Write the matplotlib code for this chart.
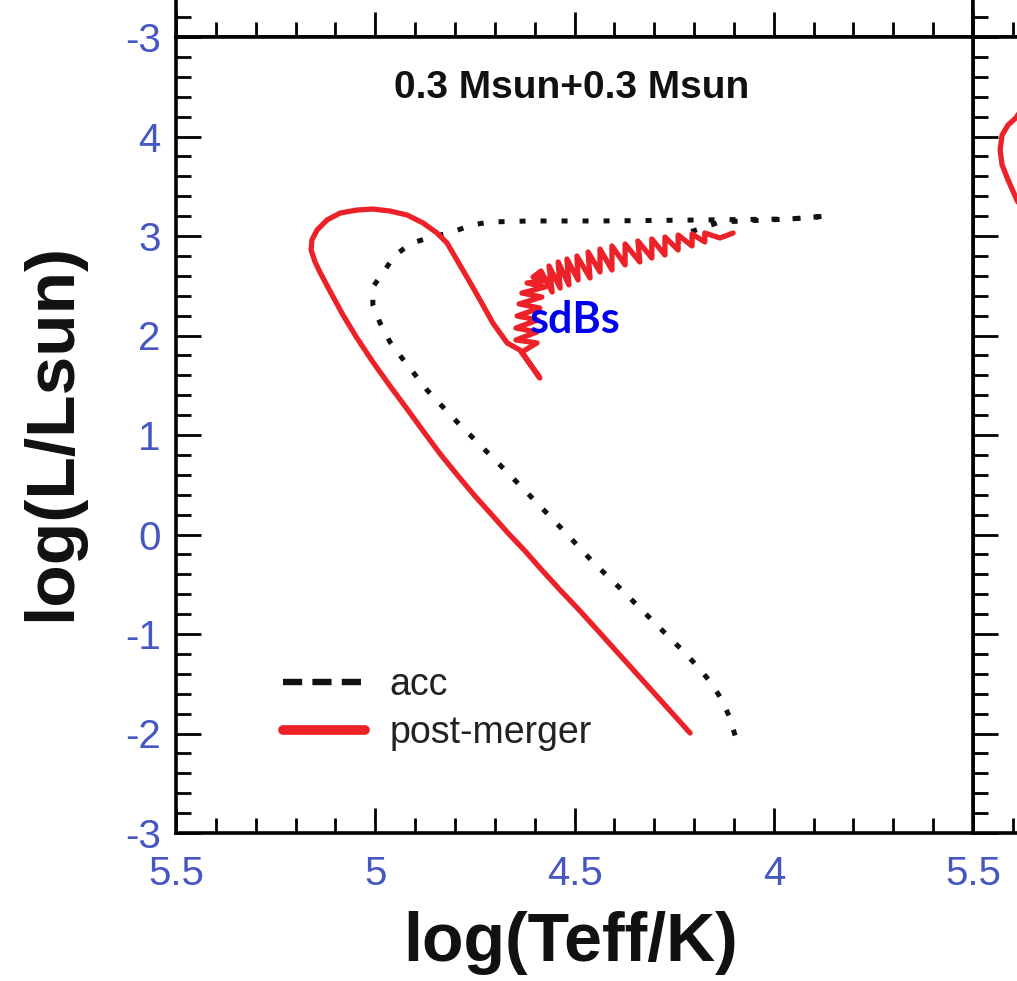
import matplotlib
matplotlib.use("Agg")
import matplotlib.pyplot as plt
from matplotlib.lines import Line2D
from matplotlib.ticker import MultipleLocator, FixedLocator, FixedFormatter

# ---------------- data ----------------
# accreting track (log Teff, log L)
acc_logT = [4.097, 4.110, 4.130, 4.157, 4.190, 4.225, 4.263, 4.306, 4.381, 4.454,
            4.524, 4.594, 4.667, 4.737, 4.807, 4.870, 4.933, 4.963, 4.988, 5.006,
            5.006, 4.976, 4.950, 4.908, 4.858, 4.807, 4.757, 4.712, 4.612, 4.436,
            4.185, 3.959, 3.864, 3.959, 4.135, 4.210, 4.235]
acc_logL = [-2.020, -1.844, -1.663, -1.492, -1.332, -1.181, -1.030, -0.859, -0.558, -0.276,
            0.025, 0.317, 0.618, 0.900, 1.181, 1.452, 1.774, 1.935, 2.126, 2.307,
            2.487, 2.658, 2.809, 2.930, 2.990, 3.040, 3.111, 3.141, 3.151, 3.151,
            3.161, 3.171, 3.201, 3.171, 3.141, 3.040, 2.940]

# post-merger track (log Teff, log L), including the sdB helium-burning phase
pm_logT = [4.210, 4.323, 4.436, 4.486, 4.536, 4.582, 4.624, 4.667, 4.708, 4.750,
           4.792, 4.835, 4.878, 4.920, 4.963, 5.006, 5.046, 5.081, 5.111, 5.139,
           5.151, 5.161, 5.159, 5.146, 5.121, 5.088, 5.046, 5.006, 4.963, 4.920,
           4.880, 4.845, 4.820, 4.795, 4.770, 4.737, 4.705, 4.669, 4.637,
           4.587, 4.632, 4.594, 4.647, 4.594, 4.647, 4.592, 4.644, 4.587, 4.639,
           4.582, 4.632, 4.574, 4.619, 4.561, 4.604, 4.584, 4.556, 4.564, 4.536,
           4.541, 4.514, 4.519, 4.491, 4.494, 4.461, 4.466, 4.436, 4.436, 4.406,
           4.406, 4.373, 4.373, 4.336, 4.341, 4.306, 4.306, 4.273, 4.273, 4.240,
           4.240, 4.205, 4.205, 4.173, 4.173, 4.135, 4.102]
pm_logL = [-1.995, -1.492, -0.990, -0.769, -0.558, -0.357, -0.166, 0.015, 0.200, 0.387,
           0.588, 0.799, 1.030, 1.261, 1.493, 1.734, 1.975, 2.206, 2.427, 2.638,
           2.739, 2.859, 2.960, 3.060, 3.161, 3.231, 3.261, 3.271, 3.251, 3.211,
           3.131, 3.030, 2.930, 2.759, 2.588, 2.357, 2.126, 1.925, 1.854,
           1.573, 1.834, 1.925, 1.955, 2.035, 2.075, 2.156, 2.196, 2.276, 2.317,
           2.387, 2.427, 2.487, 2.528, 2.558, 2.588, 2.648, 2.437, 2.699, 2.477,
           2.739, 2.508, 2.769, 2.558, 2.799, 2.578, 2.839, 2.638, 2.869, 2.658,
           2.900, 2.709, 2.920, 2.739, 2.950, 2.779, 2.970, 2.809, 2.990, 2.859,
           3.010, 2.900, 3.020, 2.940, 3.030, 2.980, 3.030]

# neighbouring panel: start of its post-merger track
nb_logT = [5.382, 5.390, 5.412, 5.427, 5.432, 5.427, 5.412, 5.390, 5.370]
nb_logL = [4.266, 4.196, 4.116, 4.015, 3.864, 3.714, 3.563, 3.362, 3.211]

x_major = [5.5, 5.0, 4.5, 4.0, 3.5]
x_labels = ["5.5", "5", "4.5", "4", ""]
y_major = [-3, -2, -1, 0, 1, 2, 3, 4, 5]
y_labels = ["-3", "-2", "-1", "0", "1", "2", "3", "4", ""]

title = "0.3 Msun+0.3 Msun"
sdb_label = "sdBs"

# ---------------- style ----------------
RED = "#ec2228"
TICKBLUE = "#4657c1"
W, H = 1017, 981
plt.rcParams["font.family"] = ["Liberation Sans", "DejaVu Sans"]
fig = plt.figure(figsize=(W / 100, H / 100), dpi=100)

L0, R0, T0, B0 = 176, 973, 37, 833
pw = (R0 - L0) / W
ph = (B0 - T0) / H
left = L0 / W
bottom = 1 - B0 / H


def make_panel(rect, xlab=True, ylab=True):
    ax = fig.add_axes(rect)
    ax.set_xlim(5.5, 3.5)
    ax.set_ylim(-3, 5)
    ax.xaxis.set_major_locator(FixedLocator(x_major))
    ax.yaxis.set_major_locator(FixedLocator(y_major))
    ax.xaxis.set_major_formatter(FixedFormatter(x_labels if xlab else [""] * len(x_major)))
    ax.yaxis.set_major_formatter(FixedFormatter(y_labels if ylab else [""] * len(y_major)))
    ax.xaxis.set_minor_locator(MultipleLocator(0.1))
    ax.yaxis.set_minor_locator(MultipleLocator(0.2))
    ax.tick_params(which="both", direction="in", top=False, right=False,
                   width=2.0, color="black")
    ax.tick_params(which="major", length=18, labelsize=29, labelcolor=TICKBLUE)
    ax.tick_params(axis="x", which="major", pad=16)
    ax.tick_params(axis="y", which="major", pad=11)
    ax.tick_params(which="minor", length=11)
    for s in ax.spines.values():
        s.set_linewidth(2.6)
    ax.set_facecolor("white")
    return ax


# panels around the main one (only their edges fall inside the figure)
ax_up = make_panel([left, bottom + ph, pw, ph], xlab=False, ylab=True)
ax_up.yaxis.set_major_formatter(FixedFormatter(["-3"] + [""] * (len(y_major) - 1)))
ax_upr = make_panel([left + pw, bottom + ph, pw, ph], xlab=False, ylab=False)
ax_r = make_panel([left + pw, bottom, pw, ph], xlab=True, ylab=False)
ax_r.xaxis.set_major_formatter(FixedFormatter(["5.5", "", "", "", ""]))
ax_r.plot(nb_logT, nb_logL, color=RED, lw=3.8, solid_capstyle="round")

ax = make_panel([left, bottom, pw, ph])

ax.plot(acc_logT, acc_logL, color="#111111", lw=3.6, ls=(0, (1.2, 3.0)))
ax.plot(pm_logT, pm_logL, color=RED, lw=3.8, solid_joinstyle="round",
        solid_capstyle="round")

ax.text(0.497, 0.936, title, transform=ax.transAxes, ha="center", va="center",
        fontsize=28, fontweight="bold", color="#111111")
ax.text(4.612, 2.16, sdb_label, ha="left", va="center", fontsize=31,
        fontweight="bold", color="#0000ee", family=["Lato", "DejaVu Sans"])

handles = [Line2D([], [], color="#111111", lw=4.6, ls=(0, (3.0, 1.6))),
           Line2D([], [], color=RED, lw=7.0, solid_capstyle="round")]
ax.legend(handles, ["acc", "post-merger"], loc="upper left",
          bbox_to_anchor=(0.134, 0.208), frameon=False, fontsize=27,
          handlelength=2.2, handletextpad=0.65, labelspacing=0.31,
          borderpad=0, borderaxespad=0, labelcolor="#222222")

fig.text(571 / W, 1 - 943 / H, "log(Teff/K)", ha="center", va="center",
         fontsize=49, fontweight="bold", color="#111111")
fig.text(52 / W, 1 - 432 / H, "log(L/Lsun)", ha="center", va="center",
         rotation=90, fontsize=50, fontweight="bold", color="#111111")

fig.savefig("out.png", dpi=100, facecolor="white")
